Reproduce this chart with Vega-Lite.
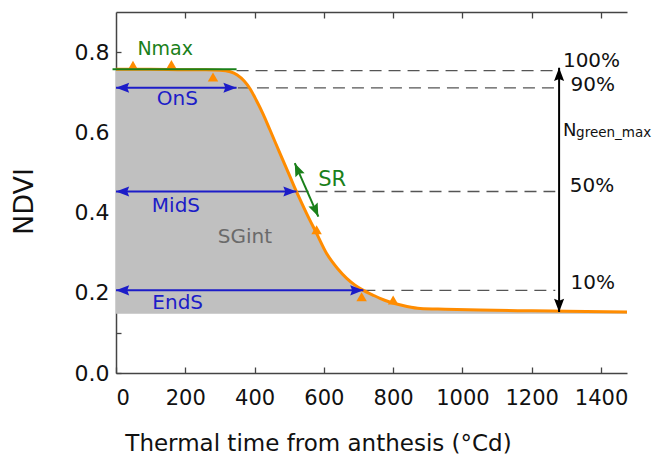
{
  "$schema": "https://vega.github.io/schema/vega-lite/v6.json",
  "width": 511,
  "height": 361,
  "autosize": "none",
  "padding": {"left": 116, "top": 12, "right": 26, "bottom": 85},
  "background": "white",
  "config": {
    "font": "DejaVu Sans",
    "view": {"stroke": null},
    "axis": {
      "labelFont": "DejaVu Sans", "labelFontSize": 21, "labelColor": "#111",
      "titleFont": "DejaVu Sans", "titleColor": "#111", "titleFontWeight": "normal",
      "domainColor": "#444", "domainWidth": 1.5, "tickColor": "#444", "tickWidth": 1.3,
      "grid": false
    }
  },
  "datasets": {
    "curve": [
      {"t": 0, "v": 0.757}, {"t": 100, "v": 0.757}, {"t": 200, "v": 0.756}, {"t": 260, "v": 0.756},
      {"t": 300, "v": 0.755}, {"t": 330, "v": 0.751}, {"t": 350, "v": 0.743}, {"t": 370, "v": 0.728},
      {"t": 386, "v": 0.71}, {"t": 405, "v": 0.68}, {"t": 425, "v": 0.645}, {"t": 444, "v": 0.607},
      {"t": 473, "v": 0.548}, {"t": 502, "v": 0.49}, {"t": 521, "v": 0.452}, {"t": 550, "v": 0.398},
      {"t": 579, "v": 0.348}, {"t": 608, "v": 0.298}, {"t": 640, "v": 0.26}, {"t": 666, "v": 0.236},
      {"t": 690, "v": 0.219}, {"t": 714, "v": 0.206}, {"t": 740, "v": 0.195}, {"t": 762, "v": 0.186},
      {"t": 790, "v": 0.177}, {"t": 810, "v": 0.172}, {"t": 840, "v": 0.166}, {"t": 878, "v": 0.161},
      {"t": 950, "v": 0.159}, {"t": 1051, "v": 0.157}, {"t": 1200, "v": 0.155}, {"t": 1300, "v": 0.154},
      {"t": 1475, "v": 0.152}
    ],
    "obs": [
      {"t": 49, "v": 0.767}, {"t": 160, "v": 0.769}, {"t": 280, "v": 0.738},
      {"t": 579, "v": 0.357}, {"t": 709, "v": 0.19}, {"t": 800, "v": 0.182}
    ],
    "dash": [
      {"t": 348, "t2": 1265, "v": 0.754},
      {"t": 352, "t2": 1265, "v": 0.711},
      {"t": 521, "t2": 1268, "v": 0.4525},
      {"t": 714, "t2": 1268, "v": 0.206}
    ],
    "shafts": [
      {"t": -10, "t2": 348, "v": 0.757, "v2": 0.757, "grp": "nmax"},
      {"t": 0, "t2": 348, "v": 0.711, "v2": 0.711, "grp": "stage"},
      {"t": 0, "t2": 521, "v": 0.4525, "v2": 0.4525, "grp": "stage"},
      {"t": 0, "t2": 714, "v": 0.206, "v2": 0.206, "grp": "stage"},
      {"t": 516, "t2": 584, "v": 0.523, "v2": 0.39, "grp": "rate"},
      {"t": 1279, "t2": 1279, "v": 0.152, "v2": 0.761, "grp": "range"}
    ],
    "heads": [
      {"t": 0, "v": 0.711, "grp": "stage", "dir": "left"},
      {"t": 348, "v": 0.711, "grp": "stage", "dir": "right"},
      {"t": 0, "v": 0.4525, "grp": "stage", "dir": "left"},
      {"t": 521, "v": 0.4525, "grp": "stage", "dir": "right"},
      {"t": 0, "v": 0.206, "grp": "stage", "dir": "left"},
      {"t": 714, "v": 0.206, "grp": "stage", "dir": "right"},
      {"t": 516, "v": 0.523, "grp": "rate", "dir": "sr_up"},
      {"t": 584, "v": 0.39, "grp": "rate", "dir": "sr_down"},
      {"t": 1279, "v": 0.761, "grp": "range", "dir": "up"},
      {"t": 1279, "v": 0.152, "grp": "range", "dir": "down"}
    ],
    "labels": [
      {"t": 142, "v": 0.809, "text": "Nmax", "role": "nmax"},
      {"t": 624, "v": 0.482, "text": "SR", "role": "sr"},
      {"t": 177, "v": 0.682, "text": "OnS", "role": "stage"},
      {"t": 173, "v": 0.417, "text": "MidS", "role": "stage"},
      {"t": 178, "v": 0.174, "text": "EndS", "role": "stage"},
      {"t": 372, "v": 0.338, "text": "SGint", "role": "area"},
      {"t": 1290, "v": 0.779, "text": "100%", "role": "pct"},
      {"t": 1312, "v": 0.719, "text": "90%", "role": "pct"},
      {"t": 1310, "v": 0.467, "text": "50%", "role": "pct"},
      {"t": 1312, "v": 0.2255, "text": "10%", "role": "pct"},
      {"t": 1290, "v": 0.59, "text": "N", "role": "n"},
      {"t": 1328, "v": 0.589, "text": "green_max", "role": "sub"}
    ]
  },
  "resolve": {"axis": {"x": "independent"}},
  "layer": [
    {
      "data": {"name": "curve"},
      "mark": {"type": "area", "color": "#c0c0c0", "interpolate": "monotone"},
      "encoding": {
        "x": {"field": "t", "type": "quantitative", "scale": {"domain": [0, 1475], "nice": false, "zero": false},
          "axis": {"orient": "bottom", "values": [0, 200, 400, 600, 800, 1000, 1200, 1400], "format": "d",
            "tickSize": -6, "labelPadding": 20, "title": "Thermal time from anthesis (°Cd)",
            "titleFontSize": 23, "titleX": 202, "titleY": 77, "titleBaseline": "alphabetic", "titleAlign": "center", "titleAnchor": null}},
        "y": {"field": "v", "type": "quantitative", "scale": {"domain": [0, 0.9], "nice": false},
          "axis": {"values": [0, 0.1, 0.2, 0.3, 0.4, 0.5, 0.6, 0.7, 0.8],
            "labelExpr": "round(datum.value*10)%2==0 ? format(datum.value,'.1f') : ''",
            "tickSize": -5, "labelPadding": 12, "labelFontSize": 22, "title": "NDVI", "titleFontSize": 27,
            "titleX": -92, "titleY": 189, "titleBaseline": "middle", "titleAlign": "center", "titleAngle": 270}},
        "y2": {"datum": 0.148}
      }
    },
    {
      "data": {"name": "dash"},
      "mark": {"type": "rule", "color": "#555", "strokeWidth": 1.3, "strokeDash": [12, 7]},
      "encoding": {
        "x": {"field": "t", "type": "quantitative",
          "axis": {"orient": "top", "values": [200, 400, 600, 800, 1000, 1200, 1400], "labels": false, "tickSize": -6, "title": null}},
        "x2": {"field": "t2"},
        "y": {"field": "v", "type": "quantitative"}
      }
    },
    {
      "data": {"name": "curve"},
      "mark": {"type": "line", "color": "#ff8c00", "strokeWidth": 3, "interpolate": "monotone"},
      "encoding": {
        "x": {"field": "t", "type": "quantitative", "axis": null},
        "y": {"field": "v", "type": "quantitative"}
      }
    },
    {
      "data": {"name": "obs"},
      "mark": {"type": "point", "shape": "triangle-up", "filled": true, "color": "#ff8c00", "opacity": 1, "size": 110},
      "encoding": {
        "x": {"field": "t", "type": "quantitative", "axis": null},
        "y": {"field": "v", "type": "quantitative"}
      }
    },
    {
      "data": {"name": "shafts"},
      "mark": {"type": "rule", "strokeWidth": 2},
      "encoding": {
        "x": {"field": "t", "type": "quantitative", "axis": null},
        "x2": {"field": "t2"},
        "y": {"field": "v", "type": "quantitative"},
        "y2": {"field": "v2"},
        "color": {"field": "grp", "type": "nominal", "legend": null,
          "scale": {"domain": ["stage", "rate", "nmax", "range"], "range": ["#1c1cc8", "#1a801a", "#1a801a", "#000000"]}}
      }
    },
    {
      "data": {"name": "heads"},
      "mark": {"type": "point", "shape": "M0,0L0.65,1.7L0,1.45L-0.65,1.7Z", "filled": true, "opacity": 1, "size": 240},
      "encoding": {
        "x": {"field": "t", "type": "quantitative", "axis": null},
        "y": {"field": "v", "type": "quantitative"},
        "angle": {"field": "dir", "type": "nominal",
          "scale": {"type": "ordinal", "domain": ["up", "right", "down", "left", "sr_up", "sr_down"], "range": [0, 90, 180, 270, 336.4, 156.4]}},
        "color": {"field": "grp", "type": "nominal", "legend": null}
      }
    },
    {
      "data": {"name": "labels"},
      "transform": [{"filter": "datum.role == 'stage'"}],
      "mark": {"type": "text", "color": "#1c1cc8", "fontSize": 20, "align": "center", "baseline": "middle"},
      "encoding": {
        "x": {"field": "t", "type": "quantitative", "axis": null},
        "y": {"field": "v", "type": "quantitative"},
        "text": {"field": "text"}
      }
    },
    {
      "data": {"name": "labels"},
      "transform": [{"filter": "datum.role == 'nmax'"}],
      "mark": {"type": "text", "color": "#1a801a", "fontSize": 19, "align": "center", "baseline": "middle"},
      "encoding": {
        "x": {"field": "t", "type": "quantitative", "axis": null},
        "y": {"field": "v", "type": "quantitative"},
        "text": {"field": "text"}
      }
    },
    {
      "data": {"name": "labels"},
      "transform": [{"filter": "datum.role == 'sr'"}],
      "mark": {"type": "text", "color": "#1a801a", "fontSize": 21, "align": "center", "baseline": "middle"},
      "encoding": {
        "x": {"field": "t", "type": "quantitative", "axis": null},
        "y": {"field": "v", "type": "quantitative"},
        "text": {"field": "text"}
      }
    },
    {
      "data": {"name": "labels"},
      "transform": [{"filter": "datum.role == 'area'"}],
      "mark": {"type": "text", "color": "#6a6a6a", "fontSize": 20, "align": "center", "baseline": "middle"},
      "encoding": {
        "x": {"field": "t", "type": "quantitative", "axis": null},
        "y": {"field": "v", "type": "quantitative"},
        "text": {"field": "text"}
      }
    },
    {
      "data": {"name": "labels"},
      "transform": [{"filter": "datum.role == 'pct'"}],
      "mark": {"type": "text", "color": "#111", "fontSize": 20, "align": "left", "baseline": "middle"},
      "encoding": {
        "x": {"field": "t", "type": "quantitative", "axis": null},
        "y": {"field": "v", "type": "quantitative"},
        "text": {"field": "text"}
      }
    },
    {
      "data": {"name": "labels"},
      "transform": [{"filter": "datum.role == 'n'"}],
      "mark": {"type": "text", "color": "#111", "fontSize": 18, "align": "left", "baseline": "alphabetic"},
      "encoding": {
        "x": {"field": "t", "type": "quantitative", "axis": null},
        "y": {"field": "v", "type": "quantitative"},
        "text": {"field": "text"}
      }
    },
    {
      "data": {"name": "labels"},
      "transform": [{"filter": "datum.role == 'sub'"}],
      "mark": {"type": "text", "color": "#111", "fontSize": 13.5, "align": "left", "baseline": "alphabetic"},
      "encoding": {
        "x": {"field": "t", "type": "quantitative", "axis": null},
        "y": {"field": "v", "type": "quantitative"},
        "text": {"field": "text"}
      }
    }
  ]
}
